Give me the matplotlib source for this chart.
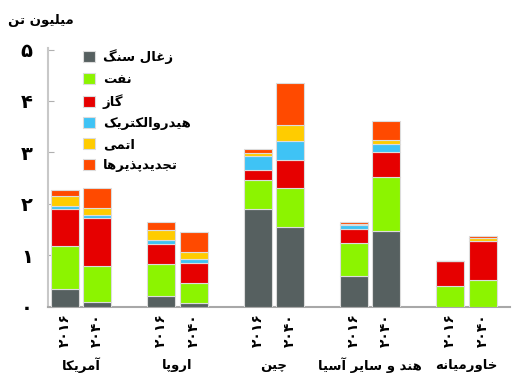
import matplotlib
matplotlib.use('Agg')
import matplotlib.pyplot as plt
import numpy as np

# ─────────────────────────────────────────────
# داده‌ها (میلیون تن)
# ─────────────────────────────────────────────
regions = ["آمریکا", "اروپا", "چین", "هند و سایر آسیا", "خاورمیانه"]
years   = ["۲۰۱۶", "۲۰۴۰"]
sources = ["زغال سنگ", "نفت", "گاز", "هیدروالکتریک", "اتمی", "تجدیدپذیرها"]

# هر ردیف: [آمریکا ۲۰۱۶, آمریکا ۲۰۴۰, اروپا ۲۰۱۶, اروپا ۲۰۴۰, چین ..., هند ..., خاورمیانه ...]
coal  = [0.34, 0.08, 0.20, 0.06, 1.89, 1.55, 0.60, 1.47, 0.00, 0.00]
oil   = [0.84, 0.71, 0.62, 0.39, 0.58, 0.76, 0.63, 1.05, 0.40, 0.52]
gas   = [0.71, 0.93, 0.40, 0.40, 0.19, 0.55, 0.28, 0.49, 0.48, 0.75]
hydro = [0.07, 0.06, 0.08, 0.07, 0.27, 0.36, 0.08, 0.16, 0.00, 0.01]
nuc   = [0.19, 0.13, 0.19, 0.15, 0.05, 0.32, 0.02, 0.06, 0.00, 0.05]
renew = [0.12, 0.39, 0.16, 0.38, 0.08, 0.80, 0.03, 0.38, 0.00, 0.04]

yticks = [0, 1, 2, 3, 4, 5]
ytick_labels = ["۰", "۱", "۲", "۳", "۴", "۵"]

COLORS = ["#566060", "#8cf400", "#e60000", "#3fc3f5", "#ffcc00", "#ff4a00"]

# ─────────────────────────────────────────────
# شکل‌دهی ساده حروف فارسی (matplotlib اتصال حروف را انجام نمی‌دهد)
# ─────────────────────────────────────────────
FORMS = {  # isolated, final, initial, medial
    "ا": (0xFE8D, 0xFE8E, None, None), "آ": (0xFE81, 0xFE82, None, None),
    "ب": (0xFE8F, 0xFE90, 0xFE91, 0xFE92), "پ": (0xFB56, 0xFB57, 0xFB58, 0xFB59),
    "ت": (0xFE95, 0xFE96, 0xFE97, 0xFE98), "ج": (0xFE9D, 0xFE9E, 0xFE9F, 0xFEA0),
    "چ": (0xFB7A, 0xFB7B, 0xFB7C, 0xFB7D), "خ": (0xFEA5, 0xFEA6, 0xFEA7, 0xFEA8),
    "د": (0xFEA9, 0xFEAA, None, None), "ذ": (0xFEAB, 0xFEAC, None, None),
    "ر": (0xFEAD, 0xFEAE, None, None), "ز": (0xFEAF, 0xFEB0, None, None),
    "س": (0xFEB1, 0xFEB2, 0xFEB3, 0xFEB4), "غ": (0xFECD, 0xFECE, 0xFECF, 0xFED0),
    "ف": (0xFED1, 0xFED2, 0xFED3, 0xFED4), "ک": (0xFB8E, 0xFB8F, 0xFB90, 0xFB91),
    "گ": (0xFB92, 0xFB93, 0xFB94, 0xFB95), "ل": (0xFEDD, 0xFEDE, 0xFEDF, 0xFEE0),
    "م": (0xFEE1, 0xFEE2, 0xFEE3, 0xFEE4), "ن": (0xFEE5, 0xFEE6, 0xFEE7, 0xFEE8),
    "و": (0xFEED, 0xFEEE, None, None), "ه": (0xFEE9, 0xFEEA, 0xFEEB, 0xFEEC),
    "ی": (0xFBFC, 0xFBFD, 0xFBFE, 0xFBFF),
}


def fa(text):
    out = []
    for i, ch in enumerate(text):
        if ch not in FORMS:
            out.append(ch)
            continue
        prev = text[i - 1] if i > 0 else ""
        nxt = text[i + 1] if i + 1 < len(text) else ""
        join_prev = prev in FORMS and FORMS[prev][2] is not None
        join_next = FORMS[ch][2] is not None and nxt in FORMS
        iso, fin, ini, med = FORMS[ch]
        if join_prev and join_next:
            code = med
        elif join_prev:
            code = fin
        elif join_next:
            code = ini
        else:
            code = iso
        out.append(chr(code))
    return "".join(out[::-1])


plt.rcParams.update({
    "font.family": ["DejaVu Sans"],
    "font.weight": "bold",
})

series = [coal, oil, gas, hydro, nuc, renew]

fig = plt.figure(figsize=(5.12, 3.87), dpi=100)
ax = fig.add_axes([0.094, 0.208, 0.902, 0.668])

xg = np.arange(len(regions))
xpos = np.ravel(np.column_stack([xg - 0.168, xg + 0.168]))
bottom = np.zeros(len(xpos))
for vals, name, col in zip(series, sources, COLORS):
    ax.bar(xpos, vals, width=0.29, bottom=bottom, color=col,
           edgecolor="#dcdcdc", linewidth=0.8, label=fa(name), zorder=3)
    bottom += np.array(vals)

ax.set_xlim(-0.34, 4.45)
ax.set_ylim(0, 5.03)
ax.set_yticks(yticks)
ax.set_yticklabels(ytick_labels, fontsize=14, fontweight="bold")
ax.tick_params(axis="y", direction="in", length=4, color="#b0b0b0", pad=11)

ax.set_xticks(xpos)
ax.set_xticklabels(years * len(regions), rotation=90, fontsize=10, fontweight="bold")
ax.tick_params(axis="x", length=0, pad=5)

for s in ["top", "right"]:
    ax.spines[s].set_visible(False)
ax.spines["left"].set_color("#c8c8c8")
ax.spines["left"].set_linewidth(1.5)
ax.spines["bottom"].set_color("#a8a8a8")
ax.spines["bottom"].set_linewidth(1.5)

for gx, reg in zip(xg, regions):
    ax.text(gx, -1.14, fa(reg), transform=ax.transData, ha="center", va="center",
            fontsize=9.5, fontweight="bold", clip_on=False)

fig.text(0.016, 0.948, fa("میلیون تن"), ha="left", va="center",
         fontsize=9.5, fontweight="bold")

ax.legend(loc="upper left", bbox_to_anchor=(0.05, 1.04), frameon=False,
          fontsize=9.5, handlelength=0.9, handleheight=0.9, labelspacing=0.62,
          handletextpad=0.6)

fig.savefig("out.png", dpi=100)
